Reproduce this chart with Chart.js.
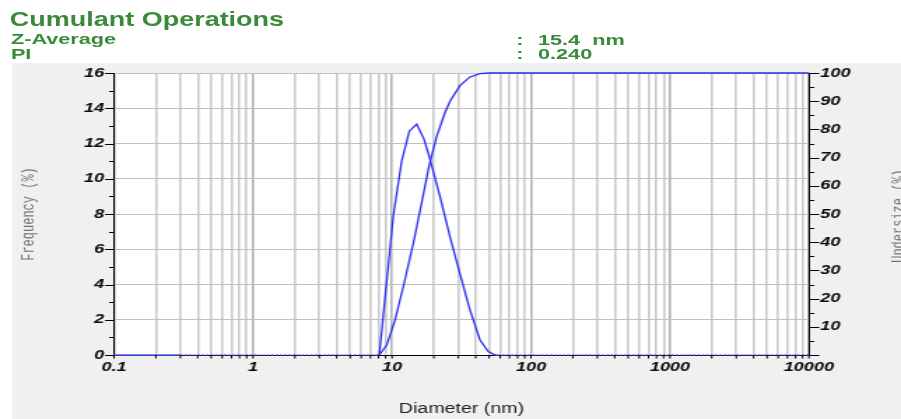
<!DOCTYPE html>
<html>
<head>
<meta charset="utf-8">
<script src="https://cdn.jsdelivr.net/npm/chart.js@4.4.1/dist/chart.umd.min.js"></script>
<style>
html,body{margin:0;padding:0;background:#fff;overflow:hidden;width:901px;height:419px;}
#stage{position:absolute;left:0;top:0;width:644px;height:419px;transform-origin:0 0;transform:scaleX(1.399068);}
#chart{position:absolute;left:0;top:0;}
.hdr{position:absolute;font-family:"Liberation Sans",Arial,sans-serif;font-weight:bold;color:#3a8a3a;white-space:pre;line-height:1;}
</style>
</head>
<body>
<div id="stage">
  <canvas id="chart" width="644" height="419"></canvas>
  <div class="hdr" style="left:7px;top:10.4px;font-size:19.3px;">Cumulant Operations</div>
  <div class="hdr" style="left:7.8px;top:31.4px;font-size:15.5px;">Z-Average</div>
  <div class="hdr" style="left:7.8px;top:46.4px;font-size:15.5px;">PI</div>
  <div class="hdr" style="left:369px;top:31.9px;font-size:15.5px;">:</div>
  <div class="hdr" style="left:384.5px;top:31.9px;font-size:15.5px;">15.4  nm</div>
  <div class="hdr" style="left:369px;top:46.2px;font-size:15.5px;">:</div>
  <div class="hdr" style="left:384.5px;top:46.2px;font-size:15.5px;">0.240</div>
</div>
<script>
// ---- data ----
const freqSizes  = [0.1, 0.3, 8.1, 10.22, 11.74, 13.32, 15.05, 16.99, 18.77, 22.14, 26.14, 30.84, 36.41, 42.96, 49.3, 55.1, 58, 10000];
const freqValues = [0,   0,   0,   7.9,   11.0,  12.7,  13.1,  12.25, 11.1,  9.0,   6.7,   4.6,   2.55,  0.85,  0.2,  0,    0,  0];
const cumSizes   = [8.1, 9.16, 10.51, 12.06, 14.23, 16.36, 18.46, 20.97, 24.06, 26.14, 30.84, 36.41, 42.96, 50.7, 10000];
const cumValues  = [0,   3.5,  12.4,  24.2,  39.6,  54.0,  67.0,  77.5,  86.0,  90.0,  95.5,  98.6,  99.8,  100,  100];
const xDecades      = [0.1, 1, 10, 100, 1000, 10000];
const xDecadeLabels = ['0.1', '1', '10', '100', '1000', '10000'];
const xMinorMults   = [2, 3, 4, 5, 6, 7, 8, 9];
const freqAxisMax = 16;
const undersizeAxisMax = 100;
const xTitle = 'Diameter (nm)';
const yTitle = 'Frequency (%)';
const y1Title = 'Undersize (%)';

// tick positions for the log axis
const xTickValues = [];
xDecades.forEach((d, i) => {
  xTickValues.push(d);
  if (i < xDecades.length - 1) xMinorMults.forEach(m => xTickValues.push(+(d * m).toPrecision(6)));
});
const isDecade = v => xDecades.some(d => Math.abs(v - d) / d < 1e-6);
const decadeLabel = v => { const i = xDecades.findIndex(d => Math.abs(v - d) / d < 1e-6); return i >= 0 ? xDecadeLabels[i] : ''; };

const W = 644, H = 419;
const PLOT_L = 81.5, PLOT_R = 578.2, PLOT_T = 73, PLOT_B = 355;
const tickFont = {family: '"Liberation Sans", Arial, sans-serif', size: 13, style: 'italic', weight: 'bold'};

const isZeroSeg = ctx => ctx.p0.parsed.y === 0 && ctx.p1.parsed.y === 0 && ctx.p1.parsed.x / ctx.p0.parsed.x > 4;

const bgPlugin = {
  id: 'bg',
  beforeDraw(chart) {
    const c = chart.ctx, a = chart.chartArea;
    c.save();
    c.fillStyle = '#f0f0f0';
    c.fillRect(8.6, 63, W, H);
    c.fillStyle = '#ffffff';
    c.fillRect(a.left, a.top, a.right - a.left, a.bottom - a.top);
    c.restore();
  }
};

const tickPlugin = {
  id: 'tickmarks',
  afterDraw(chart) {
    const c = chart.ctx, a = chart.chartArea;
    const sx = chart.scales.x, sy = chart.scales.y, sy1 = chart.scales.y1;
    c.save();
    c.strokeStyle = '#000';
    c.lineWidth = 1;
    c.beginPath();
    for (let v = 0; v <= freqAxisMax; v++) {
      const y = Math.round(sy.getPixelForValue(v)) + 0.5;
      const len = v % 2 === 0 ? 6.4 : 3.6;
      c.moveTo(a.left - len, y); c.lineTo(a.left, y);
    }
    for (let v = 0; v <= undersizeAxisMax; v += 5) {
      const y = Math.round(sy1.getPixelForValue(v)) + 0.5;
      const len = v % 10 === 0 ? 7.4 : 3.8;
      c.moveTo(a.right, y); c.lineTo(a.right + len, y);
    }
    xTickValues.forEach(v => {
      const x = sx.getPixelForValue(v);
      c.moveTo(x, a.bottom); c.lineTo(x, a.bottom + 3.5);
    });
    c.stroke();
    // right axis title (reads bottom to top)
    c.translate(642.6, 216);
    c.rotate(-Math.PI / 2);
    c.font = '12px "Liberation Mono", "DejaVu Sans Mono", monospace';
    c.fillStyle = '#747474';
    c.textAlign = 'center';
    c.textBaseline = 'middle';
    c.fillText(y1Title, 0, 0);
    c.restore();
  }
};

new Chart(document.getElementById('chart'), {
  type: 'line',
  data: {
    datasets: [
      {
        label: 'Frequency',
        data: freqSizes.map((x, i) => ({x, y: freqValues[i]})),
        yAxisID: 'y',
        borderColor: '#2b2bf2',
        borderWidth: 1.3,
        pointRadius: 0,
        tension: 0,
        fill: false,
        clip: 4,
        segment: {
          borderDash: ctx => isZeroSeg(ctx) ? [1.6, 1.5] : undefined,
          borderColor: ctx => (ctx.p0.parsed.y === 0 && ctx.p1.parsed.y === 0) ? '#5a5aff' : undefined
        }
      },
      {
        label: 'Undersize',
        data: cumSizes.map((x, i) => ({x, y: cumValues[i]})),
        yAxisID: 'y1',
        borderColor: '#2b2bf2',
        borderWidth: 1.3,
        pointRadius: 0,
        tension: 0,
        fill: false,
        clip: 4
      }
    ]
  },
  options: {
    responsive: false,
    animation: false,
    devicePixelRatio: 1,
    layout: {padding: {left: 0, right: 0, top: PLOT_T, bottom: 0}},
    plugins: {legend: {display: false}, tooltip: {enabled: false}, title: {display: false}},
    scales: {
      x: {
        type: 'logarithmic',
        position: 'bottom',
        min: xDecades[0],
        max: xDecades[xDecades.length - 1],
        afterBuildTicks: s => { s.ticks = xTickValues.map(v => ({value: v, major: isDecade(v)})); },
        afterFit: s => { s.height = H - PLOT_B; },
        ticks: {autoSkip: false, maxRotation: 0, minRotation: 0, padding: 5, font: tickFont, color: '#0a0a0a',
                callback: v => decadeLabel(v)},
        grid: {drawTicks: false, lineWidth: 1.6,
               color: ctx => (ctx.tick && isDecade(ctx.tick.value)) ? '#b4b4b4' : '#cbcbcb'},
        border: {display: true, color: '#000', width: 1},
        title: {display: true, text: xTitle, color: '#222',
                font: {family: '"Liberation Sans", Arial, sans-serif', size: 14},
                padding: {top: 0, bottom: 1}}
      },
      y: {
        type: 'linear',
        position: 'left',
        min: 0,
        max: freqAxisMax,
        afterFit: s => { s.width = PLOT_L; },
        ticks: {stepSize: 1, padding: 7, font: tickFont, color: '#0a0a0a',
                callback: v => (v % 2 === 0 ? String(v) : '')},
        grid: {display: true, drawTicks: false, color: '#c0c0c0', lineWidth: 1},
        border: {display: true, color: '#000', width: 1},
        title: {display: true, text: yTitle, color: '#747474',
                font: {family: '"Liberation Mono", "DejaVu Sans Mono", monospace', size: 12},
                padding: {top: 13.5, bottom: 0}}
      },
      y1: {
        type: 'linear',
        position: 'right',
        min: 0,
        max: undersizeAxisMax,
        afterFit: s => { s.width = W - PLOT_R; },
        ticks: {stepSize: 5, padding: 8, font: tickFont, color: '#0a0a0a',
                callback: v => (v % 10 === 0 && v > 0 ? String(v) : '')},
        grid: {drawOnChartArea: false, drawTicks: false},
        border: {display: true, color: '#000', width: 1}
      }
    }
  },
  plugins: [bgPlugin, tickPlugin]
});
</script>
</body>
</html>
